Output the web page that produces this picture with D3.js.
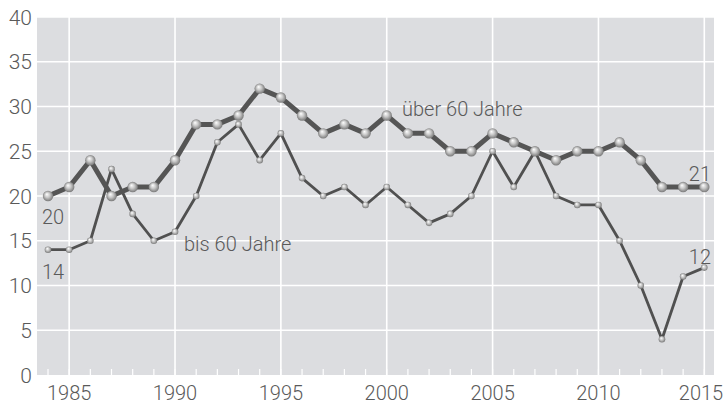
<!DOCTYPE html>
<html><head><meta charset="utf-8">
<script src="https://cdn.jsdelivr.net/npm/d3@7"></script>
<style>
html,body{margin:0;padding:0;background:#fff;}
svg{display:block;}
text{font-family:Roboto,"Noto Sans",sans-serif;font-weight:300;fill:#5a5a5a;}
</style></head>
<body>
<svg id="chart" width="726" height="405"></svg>
<script>
const years = d3.range(1984, 2016);
const ueber60 = [20,21,24,20,21,21,24,28,28,29,32,31,29,27,28,27,29,27,27,25,25,27,26,25,24,25,25,26,24,21,21,21];
const bis60   = [14,14,15,23,18,15,16,20,26,28,24,27,22,20,21,19,21,19,17,18,20,25,21,25,20,19,19,15,10,4,11,12];
const yTicks = [0,5,10,15,20,25,30,35,40];
const xTicks = [1985,1990,1995,2000,2005,2010,2015];
const seriesLabels = ["über 60 Jahre","bis 60 Jahre"];

const svg = d3.select("#chart");
const pL = 37, pR = 714, pT = 17, pB = 375;
const x = d3.scaleLinear().domain([1984, 2015]).range([48, 704.3]);
const y = d3.scaleLinear().domain([0, 40]).range([pB, pT]);

const defs = svg.append("defs");
function sphere(id){
  const g = defs.append("radialGradient").attr("id", id)
    .attr("cx","50%").attr("cy","50%").attr("r","55%").attr("fx","38%").attr("fy","32%");
  g.append("stop").attr("offset","0%").attr("stop-color","#ffffff");
  g.append("stop").attr("offset","45%").attr("stop-color","#c8c8c8");
  g.append("stop").attr("offset","100%").attr("stop-color","#6e6e6e");
}
sphere("ball");

svg.append("rect").attr("x", pL).attr("y", pT).attr("width", pR-pL).attr("height", pB-pT).attr("fill", "#dcdde0");

// grid
svg.append("g").selectAll("line").data(yTicks.slice(1)).join("line")
  .attr("x1", pL).attr("x2", pR).attr("y1", d=>y(d)).attr("y2", d=>y(d))
  .attr("stroke", "#fff").attr("stroke-width", 1.6);
svg.append("g").selectAll("line").data(xTicks).join("line")
  .attr("x1", d=>x(d)).attr("x2", d=>x(d)).attr("y1", pT).attr("y2", pB)
  .attr("stroke", "#fff").attr("stroke-width", 1.6);
// small ticks
svg.append("g").selectAll("line").data(years).join("line")
  .attr("x1", d=>x(d)).attr("x2", d=>x(d)).attr("y1", pB-6).attr("y2", pB)
  .attr("stroke", "#fff").attr("stroke-width", 1.2);

// axis labels
svg.append("g").selectAll("text").data(yTicks).join("text")
  .attr("x", 32).attr("y", d=>y(d)).attr("dy", "0.36em").attr("text-anchor","end")
  .attr("font-size", 21).text(d=>d);
svg.append("g").selectAll("text").data(xTicks).join("text")
  .attr("x", d=>Math.min(x(d), 701)).attr("y", 400).attr("text-anchor","middle")
  .attr("font-size", 20).text(d=>d);

const line = d3.line().x((d,i)=>x(years[i])).y(d=>y(d));

// thin series
svg.append("path").datum(bis60).attr("d", line).attr("fill","none")
  .attr("stroke","#505050").attr("stroke-width", 2.8).attr("stroke-linejoin","round");
svg.append("g").selectAll("circle").data(bis60).join("circle")
  .attr("cx",(d,i)=>x(years[i])).attr("cy", d=>y(d)).attr("r", 3.3)
  .attr("fill","url(#ball)");

// thick series
svg.append("path").datum(ueber60).attr("d", line).attr("fill","none")
  .attr("stroke","#555555").attr("stroke-width", 5).attr("stroke-linejoin","round");
svg.append("g").selectAll("circle").data(ueber60).join("circle")
  .attr("cx",(d,i)=>x(years[i])).attr("cy", d=>y(d)).attr("r", 5.2)
  .attr("fill","url(#ball)");

// labels
svg.append("text").attr("x", 402).attr("y", 116).attr("font-size", 20).text(seriesLabels[0]);
svg.append("text").attr("x", 184).attr("y", 251).attr("font-size", 20).text(seriesLabels[1]);
svg.append("text").attr("x", 42).attr("y", 224).attr("font-size", 20).text(ueber60[0]);
svg.append("text").attr("x", 42).attr("y", 279).attr("font-size", 20).text(bis60[0]);
svg.append("text").attr("x", 711).attr("y", 181).attr("text-anchor","end").attr("font-size", 20).text(ueber60[ueber60.length-1]);
svg.append("text").attr("x", 711).attr("y", 264).attr("text-anchor","end").attr("font-size", 20).text(bis60[bis60.length-1]);
</script>
</body></html>
